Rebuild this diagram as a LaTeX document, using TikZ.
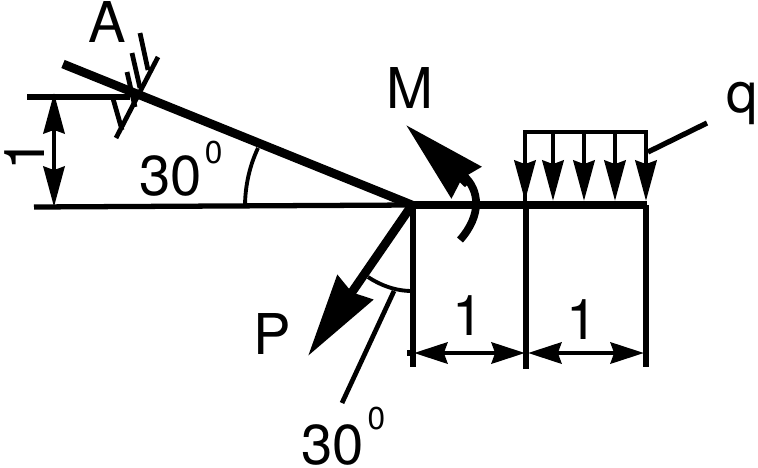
\documentclass[tikz,border=0pt]{standalone}
\usepackage{fontspec}
\setmainfont{TeX Gyre Heros}
\usetikzlibrary{arrows.meta, positioning}
\tikzset{
  beam/.style={line width=5pt},
  thin line/.style={line width=3pt},
  hatch/.style={line width=2.7pt},
  label/.style={inner sep=0pt, anchor=base west, font=\fontsize{32}{34}\selectfont},
  dim/.style={line width=2.6pt, {Stealth[length=19pt,width=12pt,inset=2pt]}-{Stealth[length=19pt,width=12pt,inset=2pt]}},
  dimtall/.style={line width=2.6pt, {Stealth[length=23pt,width=12pt,inset=2pt]}-{Stealth[length=23pt,width=12pt,inset=2pt]}},
  load/.style={line width=2.8pt, -{Stealth[length=23pt,width=12pt,inset=2pt]}},
  force/.style={line width=5pt, -{Stealth[length=47pt,width=24pt,inset=3pt]}}
}
\newcommand{\supdeg}[1]{\raisebox{#1}{\fontsize{18}{18}\selectfont 0}}
\begin{document}
\begin{tikzpicture}[x=0.02cm, y=-0.02cm]
  \useasboundingbox (0,0) rectangle (758,467);
  \coordinate (O) at (412,205);
  \coordinate (E) at (647,205);
  \coordinate (A) at (63,64);

  % beam and reference lines
  \draw[thin line] (34,207) -- (O);
  \draw[thin line] (27,97) -- (130,97);
  \draw[beam] (A) -- (O);
  \draw[beam] (O) -- (E);
  \draw[thin line] (413,205) -- (413,367);
  \draw[thin line] (526,205) -- (526,369);
  \draw[thin line] (646,205) -- (646,367);

  % support at A
  \draw[hatch] (116,138) -- (158,57);
  \draw[hatch] (140,33) -- (148,70);
  \draw[hatch] (132,53) -- (140,88);
  \draw[hatch] (127,72) -- (135,107);
  \draw[hatch] (112,95) -- (122,130);

  % dimensions
  \draw[dimtall] (54,93) -- (54,207);
  \draw[dim] (414,353) -- (525,353);
  \draw[dim] (528,353) -- (644,353);
  \draw[thin line] (407,353) -- (414,353);

  % distributed load
  \foreach \x in {553,584,615} {
    \draw[load] (\x,132) -- (\x,201);
  }
  \draw[load] (525,205) -- (525,132) -- (646,132) -- (646,201);
  \draw[load] (525,132) -- (525,201);
  \draw[thin line] (648,152) -- (707,123);

  % force and moment
  \draw[force] (O) -- (308,356);
  \draw[line width=4.4pt] (460,240) .. controls (482,215) and (480,190) .. (463,175);
  \draw[force] (468,184) -- (406,125);

  % angles
  \draw[line width=2.2pt] (245,207) .. controls (245,185) and (250,165) .. (258,148);
  \draw[line width=2.2pt] (368,277) .. controls (380,285) and (395,291) .. (412,291);
  \draw[hatch] (394,291) -- (342,403);

  \node[label] (labelA) at (88,42) {A};
  \node[label] (labelM) at (386,108) {M};
  \node[label] (labelq) at (726,112) {q};
  \node[label] (labelP) at (253,354) {P};
  \node[label] (labelAlpha) at (139,195) {30\hspace{1.7pt}\supdeg{18pt}};
  \node[label] (labelBeta) at (301,464) {30\hspace{2.2pt}\supdeg{19.5pt}};
  \node[label] (dimLeft) at (452,335) {1};
  \node[label] (dimRight) at (566,339) {1};
  \node[label, rotate=90] (dimHeight) at (44,171) {1};
\end{tikzpicture}
\end{document}
